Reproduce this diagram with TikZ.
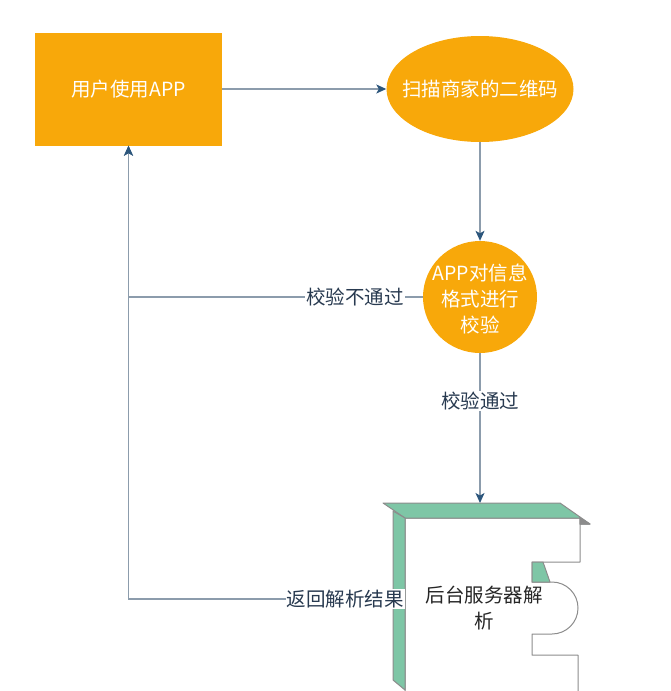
\documentclass[tikz,border=0pt]{standalone}
\usepackage{fontspec}
\setmainfont{Noto Sans CJK SC}
\usetikzlibrary{positioning,arrows.meta,shapes.geometric}

\definecolor{boxorange}{RGB}{248,168,10}
\definecolor{linegray}{RGB}{140,156,172}
\definecolor{tipblue}{RGB}{44,86,124}
\definecolor{labelblue}{RGB}{40,58,80}
\definecolor{srvgreen}{RGB}{126,198,166}
\definecolor{srvedge}{RGB}{140,140,140}

\tikzset{
  orangebox/.style={fill=boxorange, inner sep=0pt},
  whitetext/.style={text=white, align=center},
  flow/.style={draw=linegray, line width=1.2pt, -{Stealth[length=10pt,width=9pt,inset=2.5pt,color=tipblue]}},
  lbl/.style={fill=white, text=labelblue, inner sep=1pt},
  srvpart/.style={draw=srvedge, line width=1pt, line join=round}
}

\begin{document}
\begin{tikzpicture}[x=1pt, y=-1pt, every node/.style={font=\fontsize{19.5}{26}\selectfont}]
\useasboundingbox (0,0) rectangle (670,691);

\def\xa{128.5}
\def\xb{480}

\def\ya{89}
\def\yb{297}

\node[orangebox, rectangle, minimum width=187pt, minimum height=113pt] (user) at (\xa, \ya) {};
\node[whitetext] at (user) {用户使用APP};

\node[orangebox, ellipse, minimum width=187pt, minimum height=106pt] (scan) at (\xb, \ya) {};
\node[whitetext] at (scan) {扫描商家的二维码};

\node[orangebox, ellipse, minimum width=114pt, minimum height=112pt] (check) at (\xb, \yb) {};
\node[whitetext] at (\xb, 299) {APP对信息\\格式进行\\校验};

% server
\filldraw[srvpart, fill=white] (405,518) -- (580,518) -- (580,562) -- (532,562) -- (532,582)
  -- (552,582) arc[start angle=-90, end angle=90, radius=26] -- (532,634) -- (532,655)
  -- (578,655) -- (578,700) -- (405,700) -- cycle;
\filldraw[srvpart, fill=srvgreen] (383,503) -- (560,503) -- (590,524) -- (580,524) -- (580,518) -- (405,518) -- cycle;
\filldraw[srvpart, fill=srvedge] (580,518) -- (590,524) -- (580,524) -- cycle;
\filldraw[srvpart, fill=srvgreen] (393,511) -- (405,518) -- (405,690) -- (393,680) -- cycle;
\filldraw[srvpart, fill=srvgreen] (532,562) -- (543,562) -- (550,582) -- (532,582) -- cycle;
\node[align=center, text=black!85] (srv) at (484,608) {后台服务器解\\析};

\coordinate (srvtop) at (\xb, 503);
\coordinate (srvleft) at (393, 599);

\draw[flow] (user.east) -- (scan.west);
\draw[flow] (scan.south) -- (check.north);
\draw[flow] (check.south) -- node[lbl, pos=0.32] {校验通过} (srvtop);
\draw[flow] (check.west) -- node[lbl, pos=0.23] {校验不通过} (check.west -| user.south) -- (user.south);
\draw[flow] (srvleft) -- node[lbl, pos=0.18] {返回解析结果} (srvleft -| user.south) -- (user.south);

\end{tikzpicture}
\end{document}
